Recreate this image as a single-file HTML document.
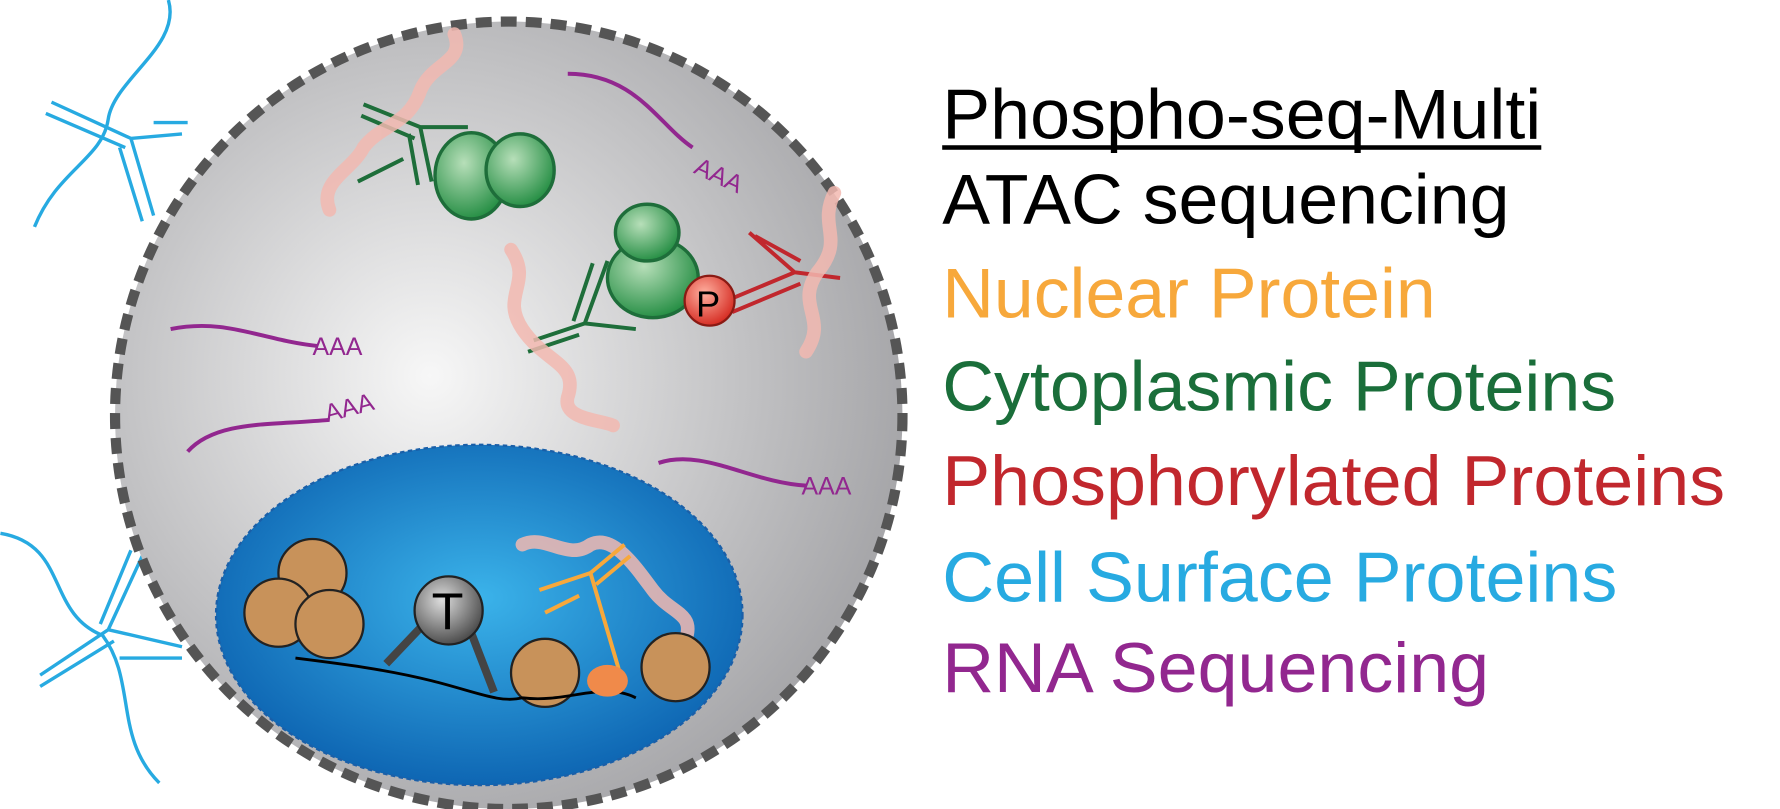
<!DOCTYPE html>
<html><head><meta charset="utf-8"><style>
html,body{margin:0;padding:0;background:#fff;width:1780px;height:809px;overflow:hidden}
svg{display:block}
text{font-family:"Liberation Sans",sans-serif}
</style></head><body>
<svg width="1780" height="809" viewBox="0 0 1568 713">
<defs>
<radialGradient id="cellG" cx="0.4" cy="0.45" r="0.6"><stop offset="0" stop-color="#f7f7f7"/><stop offset="1" stop-color="#a7a7aa"/></radialGradient>
<radialGradient id="nucG" cx="0.5" cy="0.45" r="0.6"><stop offset="0" stop-color="#3bb3ea"/><stop offset="1" stop-color="#0a5fae"/></radialGradient>
<radialGradient id="grnG" cx="0.4" cy="0.35" r="0.7"><stop offset="0" stop-color="#b7dfb9"/><stop offset="1" stop-color="#1e8a3e"/></radialGradient>
<radialGradient id="pG" cx="0.4" cy="0.35" r="0.7"><stop offset="0" stop-color="#ffb0a0"/><stop offset="1" stop-color="#d3251c"/></radialGradient>
<radialGradient id="tG" cx="0.4" cy="0.35" r="0.7"><stop offset="0" stop-color="#ddd"/><stop offset="1" stop-color="#444"/></radialGradient>
</defs>
<g stroke="#27aae1" stroke-width="3" fill="none">
<path d="M148 0 C160 40 100 70 95 105 C90 140 50 150 30 200"/>
<path d="M45 90 L115 122 L160 118 M40 100 L110 130 M115 122 L135 190 M105 130 L125 195 M135 108 L165 108"/>
<path d="M0 470 C60 480 40 540 90 560 C120 600 100 650 140 690"/>
<path d="M35 595 L95 555 L160 570 M35 605 L100 565 M95 555 L125 490 M88 550 L115 485 M105 580 L160 580"/>
</g>
<circle cx="448" cy="366" r="347" fill="url(#cellG)" stroke="#555" stroke-width="9" stroke-dasharray="14 8"/>
<ellipse cx="422" cy="542" rx="232" ry="150" fill="url(#nucG)" stroke="#1a5fa8" stroke-width="2" stroke-dasharray="4 3"/>
<g stroke="#92278f" stroke-width="3.5" fill="none">
<path d="M500 65 C560 65 580 110 610 130"/><path d="M150 290 C200 280 230 300 280 305"/>
<path d="M165 398 C190 370 240 375 290 370"/><path d="M580 408 C620 395 660 425 710 428"/>
</g>
<g fill="#92278f" font-size="22">
<text x="610" y="152" transform="rotate(25 610 152)">AAA</text><text x="275" y="313">AAA</text>
<text x="288" y="372" transform="rotate(-15 288 372)">AAA</text><text x="706" y="436">AAA</text>
</g>
<g>
<path d="M320 92 L370 112 L412 112 M318 102 L365 122 M370 112 L380 160 M360 118 L368 163 M355 140 L315 160" stroke="#1e6e3a" stroke-width="3.5" fill="none"/>
<ellipse cx="415" cy="155" rx="32" ry="38" fill="url(#grnG)" stroke="#1e6e3a" stroke-width="3"/>
<ellipse cx="458" cy="150" rx="30" ry="32" fill="url(#grnG)" stroke="#1e6e3a" stroke-width="3"/>
<ellipse cx="575" cy="245" rx="40" ry="35" fill="url(#grnG)" stroke="#1e6e3a" stroke-width="3"/>
<ellipse cx="570" cy="205" rx="28" ry="25" fill="url(#grnG)" stroke="#1e6e3a" stroke-width="3"/>
<path d="M470 300 L515 285 L560 290 M465 310 L510 295 M515 285 L535 230 M505 283 L522 232" stroke="#1e6e3a" stroke-width="3.5" fill="none"/>
<path d="M640 265 L700 240 L740 245 M645 275 L705 250 M700 240 L660 205 M705 230 L665 208" stroke="#c1272d" stroke-width="3.5" fill="none"/>
<circle cx="625" cy="265" r="22" fill="url(#pG)" stroke="#8a1a14" stroke-width="2"/>
<text x="613" y="279" font-size="32" fill="#000">P</text>
<g stroke="#f2b8b0" stroke-width="12" fill="none" stroke-linecap="round" opacity="0.85">
<path d="M290 185 C280 160 310 150 320 130 C335 110 360 110 370 80 C380 55 410 55 400 30"/>
<path d="M450 220 C470 250 440 260 460 290 C480 320 510 320 500 350 C495 370 530 370 540 375"/>
<path d="M735 170 C720 200 745 210 720 240 C700 270 730 280 710 310"/>
<path d="M460 480 C480 470 500 495 520 480 C540 470 560 500 575 520 C590 540 610 540 605 560"/>
</g>
</g>
<g fill="#c8925a" stroke="#222" stroke-width="2">
<circle cx="275" cy="505" r="30"/><circle cx="245" cy="540" r="30"/><circle cx="290" cy="550" r="30"/>
<circle cx="480" cy="593" r="30"/><circle cx="595" cy="588" r="30"/>
</g>
<path d="M260 580 C300 585 340 590 380 600 C420 610 440 620 460 615 C500 620 530 600 560 615" stroke="#000" stroke-width="2.5" fill="none"/>
<g>
<path d="M378 545 L340 585 M410 545 L435 610" stroke="#444" stroke-width="7"/>
<circle cx="395" cy="538" r="30" fill="url(#tG)" stroke="#222" stroke-width="2"/>
<text x="380" y="555" font-size="46" fill="#000">T</text>
</g>
<path d="M475 520 L520 505 L545 590 M480 540 L510 525 M520 505 L550 480 M525 515 L555 490" stroke="#f7a83b" stroke-width="3.5" fill="none"/>
<ellipse cx="535" cy="600" rx="18" ry="14" fill="#f08a4a"/>
<g font-size="62">
<text x="830" y="122" fill="#000" textLength="528" lengthAdjust="spacingAndGlyphs">Phospho-seq-Multi</text>
<rect x="830" y="128" width="528" height="4" fill="#000"/>
<text x="830" y="197" fill="#000" textLength="500" lengthAdjust="spacingAndGlyphs">ATAC sequencing</text>
<text x="830" y="280" fill="#f7a83b" textLength="435" lengthAdjust="spacingAndGlyphs">Nuclear Protein</text>
<text x="830" y="362" fill="#1a6e3a" textLength="594" lengthAdjust="spacingAndGlyphs">Cytoplasmic Proteins</text>
<text x="830" y="445" fill="#c1272d" textLength="690" lengthAdjust="spacingAndGlyphs">Phosphorylated Proteins</text>
<text x="830" y="530" fill="#27aae1" textLength="595" lengthAdjust="spacingAndGlyphs">Cell Surface Proteins</text>
<text x="830" y="610" fill="#92278f" textLength="482" lengthAdjust="spacingAndGlyphs">RNA Sequencing</text>
</g>
</svg>
</body></html>
